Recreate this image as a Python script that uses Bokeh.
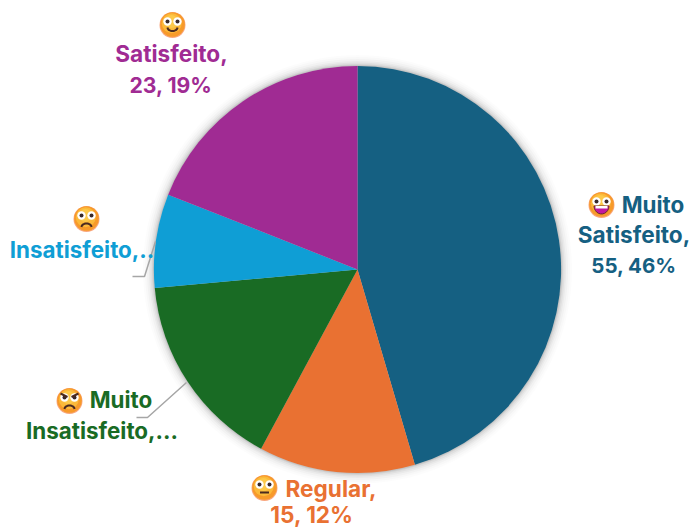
from bokeh.plotting import figure
from bokeh.embed import file_html
from bokeh.resources import INLINE
from bokeh.core.properties import value
import numpy as np

categories = ["Muito Satisfeito", "Regular", "Muito Insatisfeito", "Insatisfeito", "Satisfeito"]
values = [55, 15, 19, 9, 23]
colors = ["#156082", "#E97132", "#196B24", "#0F9ED5", "#A02B93"]

W, H = 693, 527
CX, CY, R = 358, 270, 203.6
FONT = "Inter"

def Y(py):
    return H - py

p = figure(width=W, height=H, x_range=(1, W + 1), y_range=(-1, H - 1), output_backend="svg",
           toolbar_location=None, min_border=0, outline_line_color=None,
           margin=0)
p.axis.visible = False
p.grid.visible = False
p.background_fill_color = "white"
p.border_fill_color = "white"

# soft shadow round the pie
for extra, a in [(11, 0.012), (9, 0.016), (7, 0.022), (5, 0.03), (3.5, 0.04), (2, 0.055), (1, 0.07)]:
    p.circle(x=[CX], y=[Y(CY)], radius=R + extra, fill_color="black", fill_alpha=a, line_color=None)

# pie
total = sum(values)
ang = np.cumsum([0] + values) / total * 2 * np.pi
start = np.pi / 2 - ang[:-1]
end = np.pi / 2 - ang[1:]
p.wedge(x=[CX] * 5, y=[Y(CY)] * 5, radius=R, start_angle=start, end_angle=end, direction="clock",
        fill_color=colors, line_color=None)

# leader lines
leaders = [([156, 145, 133], [242, 277, 277]), ([187, 148, 137], [383, 418, 418])]
for xs, ys in leaders:
    p.line(xs, [Y(v) for v in ys], line_color="#A6A6A6", line_width=1.5)

# labels: text, x, y, colour, size
labels = [
    ("Muito", 653.5, 205, colors[0], "22.4px"),
    ("Satisfeito,", 634.5, 235, colors[0], "22.6px"),
    ("55, 46%", 634.5, 266, colors[0], "20.5px"),
    ("Regular,", 331.5, 489, colors[1], "22.6px"),
    ("15, 12%", 312.5, 515, colors[1], "22.6px"),
    ("Muito", 121.5, 400, colors[2], "22.4px"),
    ("Insatisfeito,...", 102.5, 431, colors[2], "22.4px"),
    ("Insatisfeito,..", 82.5, 250, colors[3], "22.4px"),
    ("Satisfeito,", 172, 54, colors[4], "22.6px"),
    ("23, 19%", 171.5, 85, colors[4], "21.2px"),
]
for t, x, y, c, s in labels:
    p.text(x=[x], y=[Y(y)], text=[t], text_color=c, text_font=value(FONT), text_font_style="bold",
           text_font_size=value(s), text_align="center", text_baseline="middle")

# emoji faces
def face(cx, cy, kind):
    r = 13
    p.circle([cx], [Y(cy + 0.5)], radius=r, fill_color="#F9A77E", line_color=None)
    p.circle([cx], [Y(cy)], radius=r - 0.7, fill_color="#F79A2A", line_color=None)
    p.circle([cx - 0.7], [Y(cy - 1.2)], radius=r - 3, fill_color="#FBB93A", line_color=None)
    p.circle([cx - 1], [Y(cy - 3)], radius=r - 6.5, fill_color="#FDC94A", line_color=None)
    for dx in (-5, 5):
        p.circle([cx + dx], [Y(cy - 3)], radius=4.2, fill_color="white", line_color=None)
        p.circle([cx + dx], [Y(cy - 3)], radius=2, fill_color="#3A2A2A", line_color=None)
    t = np.linspace(0, np.pi, 12)
    if kind == "big":
        xs = cx + 7.5 * np.cos(t)
        ys = cy + 1.5 + 8 * np.sin(t)
        p.patch(xs, Y(ys), fill_color="#C2189F", line_color="#6B2A2A", line_width=1)
        p.quad(left=[cx - 6], right=[cx + 6], top=[Y(cy + 1.5)], bottom=[Y(cy + 4)], fill_color="white", line_color=None)
    elif kind == "smile":
        p.line(cx + 5 * np.cos(t), Y(cy + 3 + 3.5 * np.sin(t)), line_color="#4A2A20", line_width=2)
    elif kind == "sad":
        p.line(cx + 5 * np.cos(t), Y(cy + 8.5 - 3.5 * np.sin(t)), line_color="#4A2A20", line_width=2)
    elif kind == "flat":
        p.line([cx - 4.5, cx + 4.5], [Y(cy + 5)] * 2, line_color="#4A2A20", line_width=2)
    elif kind == "angry":
        p.line(cx + 5 * np.cos(t), Y(cy + 8.5 - 3.5 * np.sin(t)), line_color="#4A2A20", line_width=2)
        p.line([cx - 9, cx - 2], [Y(cy - 7), Y(cy - 3.5)], line_color="#4A2A20", line_width=2)
        p.line([cx + 9, cx + 2], [Y(cy - 7), Y(cy - 3.5)], line_color="#4A2A20", line_width=2)

face(602, 205, "big")
face(265, 488, "flat")
face(70, 401, "angry")
face(87, 219, "sad")
face(173, 25, "smile")

open("out.html", "w").write(file_html(p, INLINE))
